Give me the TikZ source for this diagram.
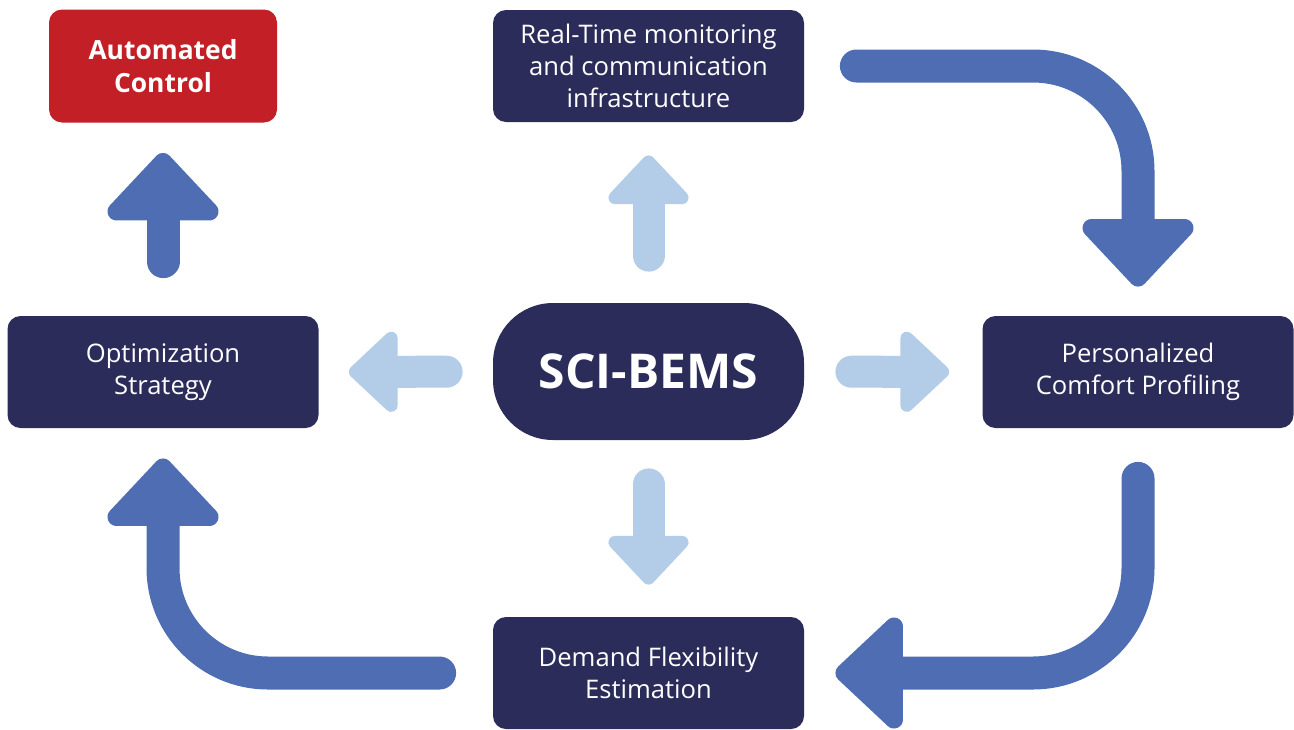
\documentclass[tikz,border=0pt]{standalone}
\usepackage{fontspec}
\setmainfont{Open Sans}
\usepackage{tikz}
\usetikzlibrary{arrows.meta, positioning}
\definecolor{navyBems}{RGB}{43,44,89}
\definecolor{rojoBems}{RGB}{194,31,38}
\definecolor{azulBems}{RGB}{78,109,179}
\definecolor{celesteBems}{RGB}{179,205,233}

\begin{document}
\begin{tikzpicture}[x=0.5pt, y=-0.5pt,
  box/.style={rectangle, rounded corners=6.5pt, fill=navyBems, text=white,
              minimum width=155.5pt, minimum height=56pt, inner sep=2pt,
              align=center, font=\fontsize{12.8}{16}\selectfont},
  hub/.style={box, rounded corners=30pt, minimum height=68.5pt,
              font=\fontsize{24}{30}\selectfont\bfseries},
  flow/.style={draw=azulBems, line width=16.5pt, line cap=round,
               -{Triangle[length=36pt, width=65pt, round]}},
  spoke/.style={draw=celesteBems, line width=16pt, line cap=round,
                -{Triangle[length=26pt, width=47pt, round]}}]
  \useasboundingbox (0,0) rectangle (1294,729);
  % Cajas
  \node[box, fill=rojoBems, minimum width=114pt, minimum height=56.5pt,
        font=\fontsize{13.2}{16.5}\selectfont\bfseries] (auto) at (163,66) {Automated\\Control};
  \node[box] (monit) at (648.5,66) {Real-Time monitoring\\and communication\\infrastructure};
  \node[box] (optim) at (163,372) {Optimization\\Strategy};
  \node[hub] (bems) at (648.5,371.5) {SCI-BEMS};
  \node[box] (comfort) at (1138,372) {Personalized\\Comfort Profiling};
  \node[box] (flex) at (648.5,673) {Demand Flexibility\\Estimation};
  % Flechas desde el centro
  \draw[spoke, shorten <=23.5pt, shorten >=16.5pt] (bems) -- (monit);
  \draw[spoke, shorten <=23pt, shorten >=15pt] (bems) -- (optim);
  \draw[spoke, shorten <=23.5pt, shorten >=16.5pt] (bems) -- (comfort);
  \draw[spoke, shorten <=22pt, shorten >=16pt] (bems) -- (flex);
  % Ciclo exterior
  \draw[flow, rounded corners=52.5pt] ([xshift=26pt]monit.east) -| ([yshift=14.5pt]comfort.north);
  \draw[flow, rounded corners=52.5pt] ([yshift=-25pt]comfort.south) |- ([xshift=15.5pt]flex.east);
  \draw[flow, rounded corners=52.5pt] ([xshift=-26.5pt]flex.west) -| ([yshift=-15pt]optim.south);
  \draw[flow] ([yshift=27pt]optim.north) -- ([yshift=-15pt]auto.south);
\end{tikzpicture}
\end{document}
